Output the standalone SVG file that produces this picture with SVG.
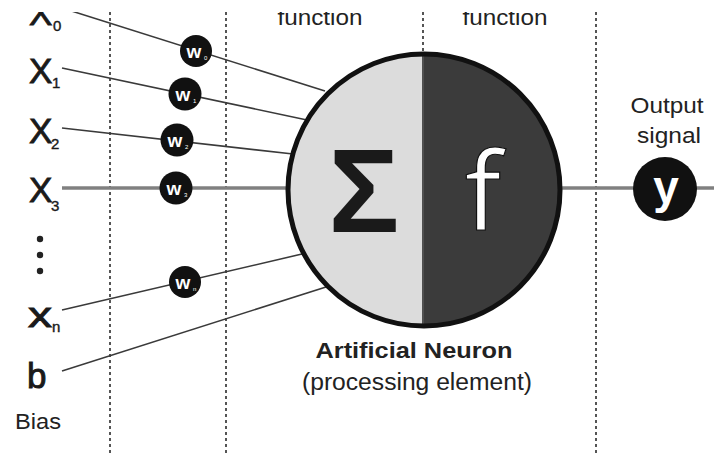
<svg xmlns="http://www.w3.org/2000/svg" width="714" height="456" viewBox="0 0 714 456">
<defs>
<style>
.dash{stroke:#555;stroke-width:2;stroke-dasharray:3 3;fill:none}
.ln{stroke:#3a3a3a;stroke-width:1.6;fill:none}
.thick{stroke:#808080;stroke-width:3.5;fill:none}
.wc{fill:#111}
.wt{fill:#fff;font-family:"Liberation Sans",Arial,sans-serif;font-weight:bold;font-size:19px}
.ws{fill:#fff;font-family:"Liberation Sans",Arial,sans-serif;font-size:6px}
.X{fill:#1a1a1a;stroke:#1a1a1a;stroke-width:0.9;font-family:"Liberation Sans",Arial,sans-serif;font-size:35px}
.sub{fill:#1a1a1a;stroke:#1a1a1a;stroke-width:0.4;font-family:"Liberation Sans",Arial,sans-serif;font-size:15px}
.lab{fill:#222;font-family:"Liberation Sans",Arial,sans-serif;font-size:22px}
</style>
</defs>
<rect width="714" height="456" fill="#fff"/>
<g id="guides">
<line class="dash" x1="110" y1="0" x2="110" y2="456"/>
<line class="dash" x1="226" y1="0" x2="226" y2="456"/>
<line class="dash" x1="423" y1="0" x2="423" y2="55"/>
<line class="dash" x1="596" y1="0" x2="596" y2="456"/>
</g>
<g id="connectors">
<line class="ln" x1="62" y1="8" x2="325" y2="91"/>
<line class="ln" x1="62" y1="68" x2="307" y2="120"/>
<line class="ln" x1="62" y1="128" x2="293" y2="154"/>
<line class="thick" x1="62" y1="188" x2="290" y2="188"/>
<line class="ln" x1="62" y1="310" x2="302" y2="254"/>
<line class="ln" x1="62" y1="371" x2="326" y2="287"/>
<line class="thick" x1="558" y1="188" x2="714" y2="188"/>
</g>
<g id="neuron">
<path d="M424 54 A136 136 0 0 0 424 326 Z" fill="#dcdcdc"/>
<path d="M424 54 A136 136 0 0 1 424 326 Z" fill="#3b3b3b"/>
<line x1="423" y1="54" x2="423" y2="328" stroke="#222" stroke-width="1.5"/>
<circle cx="424" cy="190" r="136" fill="none" stroke="#111" stroke-width="5"/>
<text x="364" y="232" text-anchor="middle" font-family="'Liberation Sans',Arial,sans-serif" font-weight="bold" font-size="118" fill="#1a1a1a">Σ</text>
<text x="483" y="230" text-anchor="middle" font-family="'Open Sans','Liberation Sans',sans-serif" font-size="108" fill="#fff" stroke="#111" stroke-width="1.2">f</text>
<text x="414" y="358" text-anchor="middle" font-family="'Liberation Sans',Arial,sans-serif" font-weight="bold" font-size="22" fill="#222" textLength="197" lengthAdjust="spacingAndGlyphs">Artificial Neuron</text>
<text x="417" y="390" text-anchor="middle" font-family="'Liberation Sans',Arial,sans-serif" font-size="23" fill="#222" textLength="230" lengthAdjust="spacingAndGlyphs">(processing element)</text>
</g>
<g id="w0"><circle class="wc" cx="196" cy="51" r="16"/><text class="wt" x="194" y="58" text-anchor="middle">w</text><text class="ws" x="204" y="60">0</text></g>
<g id="w1"><circle class="wc" cx="185" cy="94" r="16.5"/><text class="wt" x="183" y="101" text-anchor="middle">w</text><text class="ws" x="193" y="103">1</text></g>
<g id="w2"><circle class="wc" cx="177" cy="140" r="16.5"/><text class="wt" x="175" y="147" text-anchor="middle">w</text><text class="ws" x="185" y="149">2</text></g>
<g id="w3"><circle class="wc" cx="176" cy="188" r="16.5"/><text class="wt" x="174" y="195" text-anchor="middle">w</text><text class="ws" x="184" y="197">3</text></g>
<g id="wn"><circle class="wc" cx="185" cy="282" r="16"/><text class="wt" x="183" y="289" text-anchor="middle">w</text><text class="ws" x="193" y="291">n</text></g>
<g id="x0"><text class="X" x="29" y="25">X</text><text class="sub" x="53" y="31">0</text></g>
<g id="x1"><text class="X" x="29" y="83">X</text><text class="sub" x="52" y="88">1</text></g>
<g id="x2"><text class="X" x="29" y="143">X</text><text class="sub" x="51" y="149">2</text></g>
<g id="x3"><text class="X" x="29" y="202">X</text><text class="sub" x="51" y="211">3</text></g>
<g id="dots"><circle cx="40" cy="239" r="3.2" fill="#222"/><circle cx="40" cy="255" r="3.2" fill="#222"/><circle cx="40" cy="271" r="3.2" fill="#222"/></g>
<g id="xn"><text class="X" x="28" y="327" font-size="52" stroke-width="0.6" textLength="24" lengthAdjust="spacingAndGlyphs">x</text><text class="sub" x="52" y="332" font-size="13">n</text></g>
<g id="b"><text class="X" x="27" y="388" font-size="48" stroke-width="0.3">b</text><text class="lab" x="15" y="429" font-size="21" textLength="46" lengthAdjust="spacingAndGlyphs">Bias</text></g>
<g id="output">
<text class="lab" x="667" y="113" text-anchor="middle" textLength="73" lengthAdjust="spacingAndGlyphs">Output</text>
<text class="lab" x="669" y="143" text-anchor="middle" textLength="64" lengthAdjust="spacingAndGlyphs">signal</text>
<circle cx="665" cy="189" r="32" fill="#111"/>
<text x="666" y="203" text-anchor="middle" font-family="'Liberation Sans',Arial,sans-serif" font-weight="bold" font-size="46" fill="#fff">y</text>
</g>
<g id="headers">
<text class="lab" x="320" y="25" text-anchor="middle" textLength="85" lengthAdjust="spacingAndGlyphs">function</text>
<text class="lab" x="505" y="25" text-anchor="middle" textLength="85" lengthAdjust="spacingAndGlyphs">function</text>
</g>
<rect x="0" y="0" width="714" height="12" fill="#fff"/>
</svg>
